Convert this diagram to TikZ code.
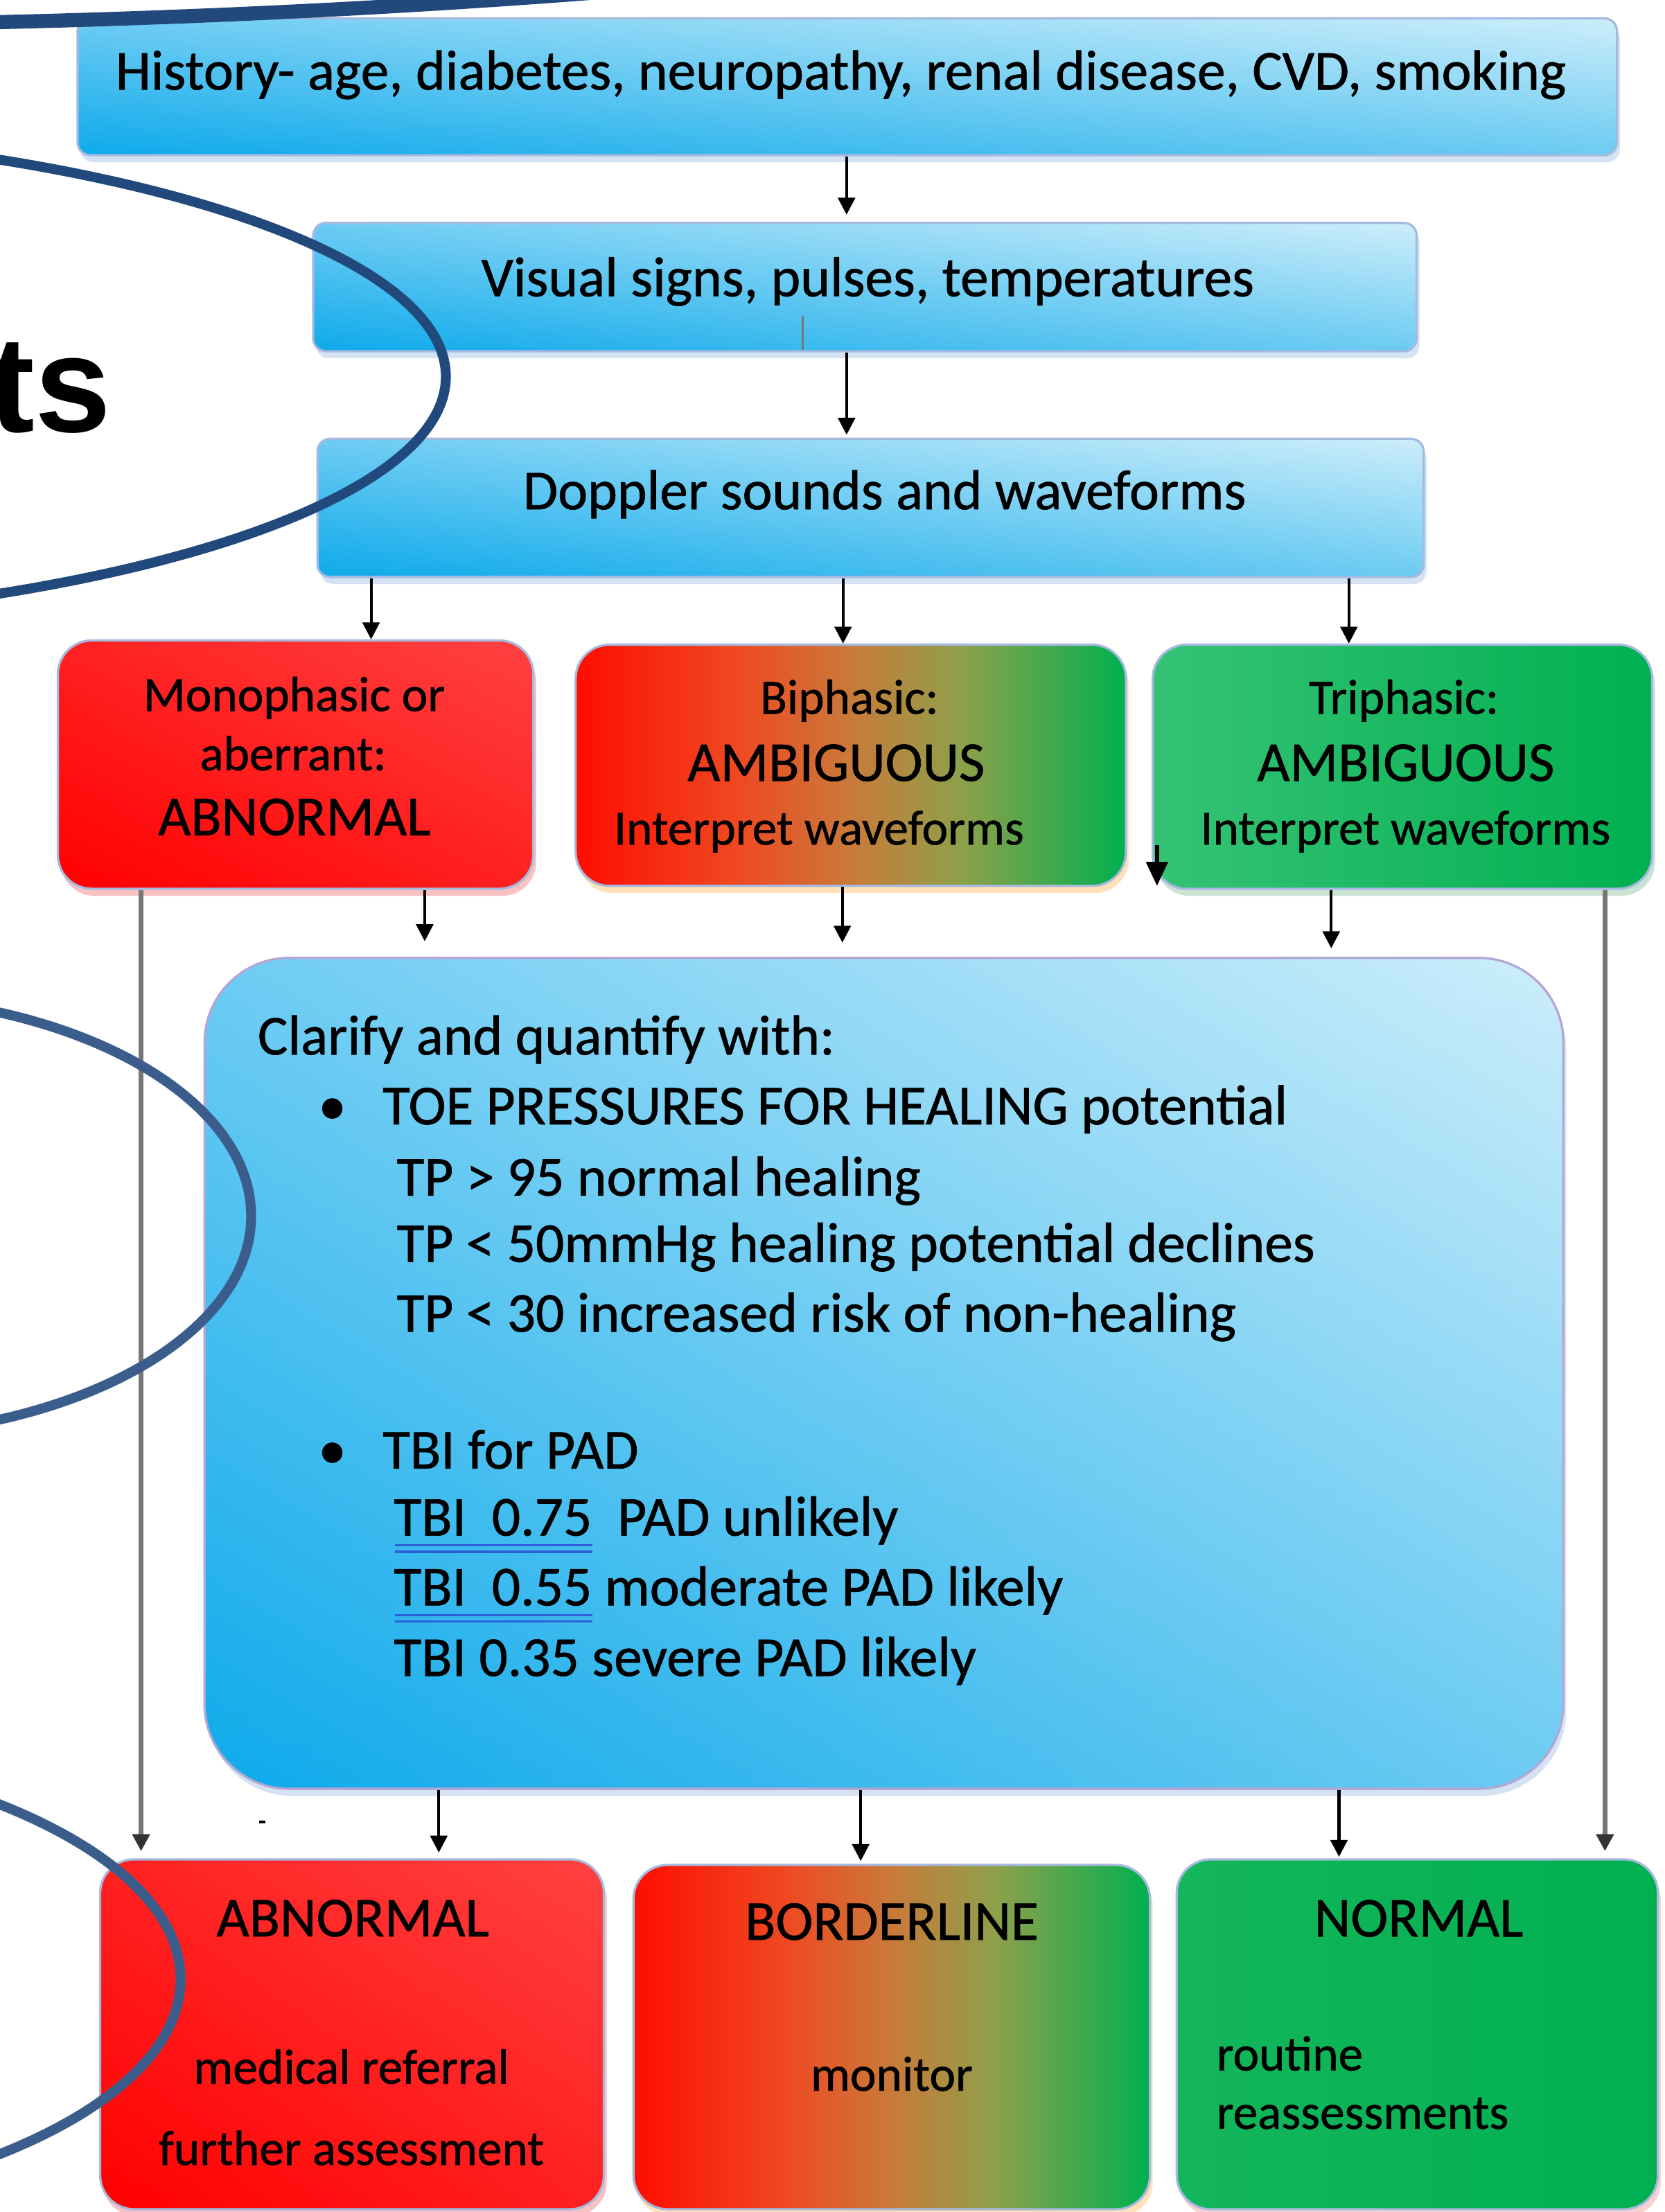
\documentclass[tikz,border=0pt]{standalone}
\usepackage{fontspec}
\setmainfont{Carlito}[FakeBold=0.8]
\newfontfamily\titlefont{Liberation Sans}
\usetikzlibrary{arrows.meta,shadows}
\definecolor{blueD}{HTML}{0EAAEB}
\definecolor{blueL}{HTML}{CDEEFB}
\definecolor{redD}{HTML}{FF0000}
\definecolor{redL}{HTML}{FF4242}
\definecolor{grnL}{HTML}{36C275}
\definecolor{grnD}{HTML}{00B050}
\definecolor{nrmL}{HTML}{14B65B}
\definecolor{rg0}{HTML}{FF0D00}
\definecolor{rg1}{HTML}{EE4A22}
\definecolor{rg2}{HTML}{C97A3A}
\definecolor{rg3}{HTML}{8EA04A}
\definecolor{rg4}{HTML}{00B050}
\definecolor{edgecol}{HTML}{A6B9DF}
\definecolor{claredge}{HTML}{B4A6D4}
\definecolor{ellA}{HTML}{22497C}
\definecolor{ellB}{HTML}{3A5D8C}
\definecolor{conn}{HTML}{767676}
\definecolor{ulblue}{HTML}{2F5FD8}
\definecolor{shbl}{HTML}{C9DCF0}
\definecolor{shred}{HTML}{F7B3B3}
\definecolor{shor}{HTML}{FFD9A8}
\definecolor{shgr}{HTML}{BFDCC8}
\pgfdeclarehorizontalshading{redgreen}{100bp}{color(0bp)=(rg0); color(25bp)=(rg0); color(40bp)=(rg1); color(50bp)=(rg2); color(60bp)=(rg3); color(75bp)=(rg4); color(100bp)=(rg4)}
\begin{document}
\begin{tikzpicture}[x=1pt,y=-1pt,
  boxbase/.style={draw=edgecol, line width=1.6pt, inner sep=0pt},
  bluebox/.style={boxbase, left color=blueD, right color=blueL,
    path picture={\shade[top color=blueL, bottom color=blueD, opacity=0.5]
      (path picture bounding box.south west) rectangle (path picture bounding box.north east);},
    drop shadow={shadow xshift=2pt, shadow yshift=-5pt, fill=shbl, opacity=0.8}},
  redbox/.style={boxbase, rounded corners=24pt, left color=redD, right color=redL,
    path picture={\shade[top color=redL, bottom color=redD, opacity=0.5]
      (path picture bounding box.south west) rectangle (path picture bounding box.north east);},
    drop shadow={shadow xshift=2pt, shadow yshift=-5pt, fill=shred, opacity=0.8}},
  mixbox/.style={boxbase, rounded corners=24pt, shade, shading=redgreen,
    drop shadow={shadow xshift=2pt, shadow yshift=-5pt, fill=shor, opacity=0.8}},
  grnbox/.style={boxbase, rounded corners=24pt, left color=grnL, right color=grnD,
    drop shadow={shadow xshift=2pt, shadow yshift=-5pt, fill=shgr, opacity=0.8}},
  nrmbox/.style={boxbase, rounded corners=24pt, left color=nrmL, right color=grnD,
    drop shadow={shadow xshift=2pt, shadow yshift=-5pt, fill=shred, opacity=0.6}},
  txtbig/.style={font=\fontsize{40}{48}\selectfont, inner sep=0pt, anchor=base},
  txtsm/.style={font=\fontsize{35}{42}\selectfont, inner sep=0pt, anchor=base},
  txtleft/.style={font=\fontsize{40}{48}\selectfont, inner sep=0pt, anchor=base west},
  smleft/.style={font=\fontsize{35}{42}\selectfont, inner sep=0pt, anchor=base west},
  arr/.style={-{Triangle[width=12pt,length=12pt]}, line width=2pt, black},
  garr/.style={-{Triangle[width=12pt,length=12pt,color=black!80]}, line width=3.4pt, conn},
  ell/.style={line width=7pt}
]
\useasboundingbox (0,0) rectangle (1180,1568);
\clip (0,0) rectangle (1180,1568);
\fill[white] (0,0) rectangle (1180,1568);

% ---------- boxes ----------
\node[bluebox, rounded corners=9pt, minimum width=1091pt, minimum height=97pt] (hist) at (600.5,61.5) {};
\node[bluebox, rounded corners=9pt, minimum width=782pt, minimum height=91pt] (vis) at (613,203.5) {};
\node[bluebox, rounded corners=9pt, minimum width=784pt, minimum height=98pt] (dop) at (617,360) {};
\node[redbox, minimum width=337pt, minimum height=176pt] (mono) at (209.5,542) {};
\node[mixbox, minimum width=390pt, minimum height=171pt] (bi) at (603,542.5) {};
\node[grnbox, minimum width=354pt, minimum height=173pt] (tri) at (994,543.5) {};
\node[bluebox, draw=claredge, rounded corners=60pt, minimum width=963pt, minimum height=589pt] (clar) at (626.5,973.5) {};
\node[redbox, minimum width=357pt, minimum height=248pt] (abn) at (249.5,1442) {};
\node[mixbox, minimum width=366pt, minimum height=244pt] (bord) at (632,1444) {};
\node[nrmbox, minimum width=341pt, minimum height=248pt] (norm) at (1004.5,1442) {};

% ---------- column coordinates ----------
\coordinate (x1) at (600,0);
\coordinate (xd1) at (263,0);
\coordinate (xd2) at (597.5,0);
\coordinate (xd3) at (956,0);
\coordinate (xm) at (301,0);
\coordinate (xb) at (597,0);
\coordinate (xt) at (943.5,0);
\coordinate (gx1) at (100,0);
\coordinate (gx2) at (1137.5,0);
\coordinate (xc1) at (311,0);
\coordinate (xc2) at (610,0);
\coordinate (xc3) at (949,0);

% ---------- connectors ----------
\draw[arr, shorten >=5pt] (hist.south -| x1) -- (vis.north -| x1);
\draw[arr, shorten >=2pt] (vis.south -| x1) -- (dop.north -| x1);
\draw[arr] (dop.south -| xd1) -- (mono.north -| xd1);
\draw[arr] (dop.south -| xd2) -- (bi.north -| xd2);
\draw[arr] (dop.south -| xd3) -- (tri.north -| xd3);
\draw[arr, shorten >=11pt] (mono.south -| xm) -- (clar.north -| xm);
\draw[arr, shorten >=10pt] (bi.south -| xb) -- (clar.north -| xb);
\draw[arr, shorten >=6pt] (tri.south -| xt) -- (clar.north -| xt);
\draw[garr, shorten >=5pt] (mono.south -| gx1) -- (abn.north -| gx1);
\draw[garr, shorten >=5pt] (tri.south -| gx2) -- (norm.north -| gx2);
\draw[arr, shorten >=4pt] (clar.south -| xc1) -- (abn.north -| xc1);
\draw[arr, shorten >=2pt] (clar.south -| xc2) -- (bord.north -| xc2);
\draw[arr, shorten >=1pt] (clar.south -| xc3) -- (norm.north -| xc3);

% stray marks
\coordinate (st1) at (820,599);
\coordinate (st2) at (820,628);
\draw[-{Triangle[width=15pt,length=17pt]}, line width=3pt] (st1) -- (st2);
\coordinate (tk1) at (569,224);
\coordinate (tk2) at (569,248);
\draw[conn, line width=1.3pt] (tk1) -- (tk2);
\coordinate (dm1) at (183.5,1291.5);
\coordinate (dm2) at (188,1291.5);
\draw[line width=2pt] (dm1) -- (dm2);

% ---------- texts ----------
\node[txtbig] (thist) at (596,63.5) {History- age, diabetes, neuropathy, renal disease, CVD, smoking};
\node[txtbig] (tvis) at (615,210) {Visual signs, pulses, temperatures};
\node[txtbig] (tdop) at (627,361) {Doppler sounds and waveforms};

\node[txtsm] (tm1) at (208.5,504) {Monophasic or};
\node[txtsm] (tm2) at (207.7,546) {aberrant:};
\node[txtbig] (tm3) at (208.6,592) {ABNORMAL};

\node[txtsm] (tb1) at (602,506) {Biphasic:};
\node[txtbig] (tb2) at (592.6,553.6) {AMBIGUOUS};
\node[txtsm] (tb3) at (580.4,598.7) {Interpret waveforms};

\node[txtsm] (tt1) at (995,506) {Triphasic:};
\node[txtbig] (tt2) at (996.3,553.6) {AMBIGUOUS};
\node[txtsm] (tt3) at (996,598.7) {Interpret waveforms};

\node[txtleft] (c0) at (182.5,747.5) {Clarify and quantify with:};
\node[txtbig] (cb1) at (235.5,797) {•};
\node[txtleft] (c1) at (271,797) {TOE PRESSURES FOR HEALING potential};
\node[txtleft] (c2) at (281,847.5) {TP > 95 normal healing};
\node[txtleft] (c3) at (281,894.5) {TP < 50mmHg healing potential declines};
\node[txtleft] (c4) at (281,944) {TP < 30 increased risk of non-healing};
\node[txtbig] (cb2) at (235.5,1041) {•};
\node[txtleft] (c5) at (271,1041) {TBI for PAD};
\node[txtleft] (c6) at (279,1088.5) {TBI\ \ 0.75\ \ PAD unlikely};
\node[txtleft] (c7) at (279,1138) {TBI\ \ 0.55 moderate PAD likely};
\node[txtleft] (c8) at (279,1188) {TBI 0.35 severe PAD likely};
\draw[ulblue, line width=1.6pt] (280,1095.5) -- (420,1095.5) (280,1100) -- (420,1100);
\draw[ulblue, line width=1.6pt] (280,1145) -- (420,1145) (280,1149.5) -- (420,1149.5);

\node[txtbig] (ta1) at (250,1372.6) {ABNORMAL};
\node[txtsm] (ta2) at (249,1477) {medical referral};
\node[txtsm] (ta3) at (249,1534.6) {further assessment};
\node[txtbig] (tbo1) at (632,1375) {BORDERLINE};
\node[txtsm] (tbo2) at (632,1482) {monitor};
\node[txtbig] (tn1) at (1005.5,1372.7) {NORMAL};
\node[smleft] (tn2) at (862,1467.6) {routine};
\node[smleft] (tn3) at (862,1509) {reassessments};

\node[font=\titlefont\bfseries\fontsize{97}{110}\selectfont, anchor=base east, inner sep=0pt] (ts) at (79,306) {ts};

% ---------- overlay ellipses ----------
\draw[ellA, line width=10pt] (-200,-454) ellipse [x radius=2000, y radius=472];
\draw[ell, ellA] (-300,267) ellipse [x radius=616, y radius=176];
\draw[ell, ellB] (-110,862) ellipse [x radius=288, y radius=156];
\draw[ell, ellB] (-290,1403) ellipse [x radius=418, y radius=172];
\end{tikzpicture}
\end{document}
